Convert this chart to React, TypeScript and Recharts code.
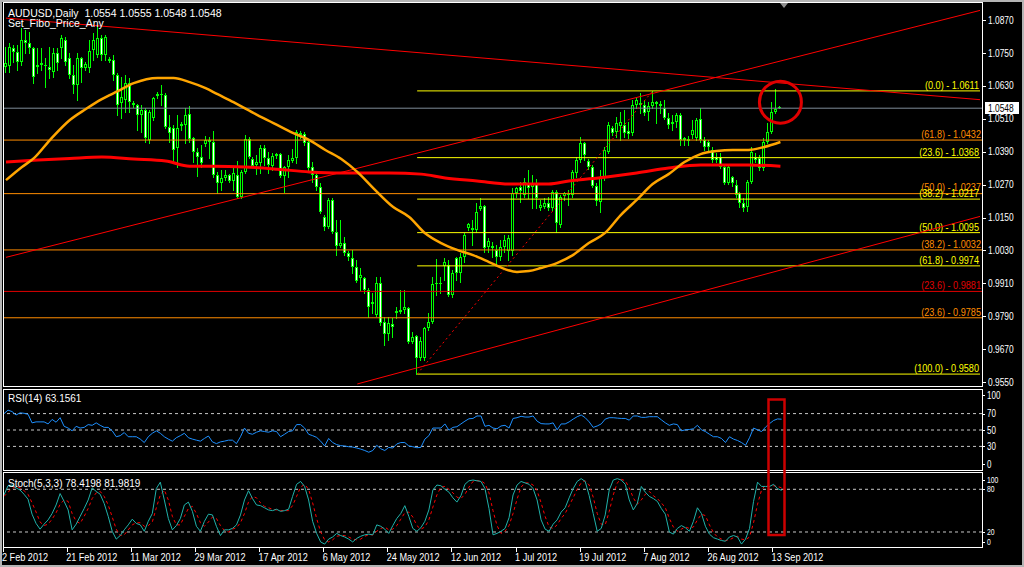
import React from 'react';
import { ComposedChart, Bar, Line, XAxis, YAxis, ReferenceLine, ReferenceDot } from 'recharts';

const SANS = '"Liberation Sans", Arial, sans-serif';

const SLOTS = 245;

const dateTicks = [0, 16, 32, 48, 64, 80, 96, 112, 128, 144, 160, 176, 192];
const dateLabels = ['2 Feb 2012', '21 Feb 2012', '11 Mar 2012', '29 Mar 2012', '17 Apr 2012', '6 May 2012', '24 May 2012', '12 Jun 2012', '1 Jul 2012', '19 Jul 2012', '7 Aug 2012', '26 Aug 2012', '13 Sep 2012'];

const priceTicks = [0.955, 0.967, 0.979, 0.991, 1.003, 1.015, 1.027, 1.039, 1.051, 1.063, 1.075, 1.087];
const rsiTicks = [0, 30, 50, 70, 100];
const stochTicks = [0, 20, 80, 100];

const opens = [
  1.0698, 1.0701, 1.0767, 1.0752, 1.0716, 1.0796, 1.0785, 1.0767, 1.0698, 1.0705,
  1.0705, 1.0698, 1.0680, 1.0749, 1.0767, 1.0796, 1.0730, 1.0669, 1.0632, 1.0730,
  1.0694, 1.0694, 1.0760, 1.0741, 1.0803, 1.0741, 1.0727, 1.0723, 1.0669, 1.0567,
  1.0578, 1.0639, 1.0567, 1.0559, 1.0523, 1.0541, 1.0432, 1.0512, 1.0592, 1.0599,
  1.0596, 1.0479, 1.0476, 1.0403, 1.0483, 1.0487, 1.0527, 1.0439, 1.0388, 1.0370,
  1.0417, 1.0432, 1.0425, 1.0305, 1.0276, 1.0294, 1.0305, 1.0283, 1.0305, 1.0225,
  1.0316, 1.0436, 1.0363, 1.0341, 1.0348, 1.0403, 1.0366, 1.0337, 1.0374, 1.0381,
  1.0301, 1.0334, 1.0356, 1.0366, 1.0450, 1.0454, 1.0425, 1.0334, 1.0305, 1.0261,
  1.0152, 1.0115, 1.0214, 1.0097, 1.0046, 1.0057, 1.0021, 1.0002, 0.9970, 0.9930,
  0.9930, 0.9886, 0.9835, 0.9795, 0.9911, 0.9770, 0.9726, 0.9763, 0.9802, 0.9806,
  0.9813, 0.9821, 0.9697, 0.9719, 0.9639, 0.9639, 0.9748, 0.9770, 0.9908, 0.9911,
  0.9973, 0.9977, 0.9868, 1.0002, 0.9948, 1.0006, 1.0112, 1.0112, 1.0104, 1.0181,
  1.0192, 1.0042, 1.0046, 1.0032, 1.0006, 1.0042, 1.0028, 1.0028, 1.0239, 1.0261,
  1.0232, 1.0276, 1.0261, 1.0276, 1.0184, 1.0188, 1.0203, 1.0184, 1.0243, 1.0123,
  1.0229, 1.0232, 1.0232, 1.0312, 1.0359, 1.0421, 1.0356, 1.0334, 1.0265, 1.0206,
  1.0297, 1.0388, 1.0476, 1.0461, 1.0483, 1.0487, 1.0465, 1.0457, 1.0559, 1.0567,
  1.0559, 1.0534, 1.0556, 1.0570, 1.0563, 1.0548, 1.0512, 1.0490, 1.0498, 1.0523,
  1.0432, 1.0436, 1.0450, 1.0439, 1.0508, 1.0432, 1.0425, 1.0396, 1.0370, 1.0370,
  1.0334, 1.0276, 1.0297, 1.0268, 1.0239, 1.0203, 1.0188, 1.0279, 1.0370, 1.0366,
  1.0330, 1.0425, 1.0461, 1.0534, 1.0554,
];
const highs = [
  1.0771, 1.0785, 1.0778, 1.0778, 1.0840, 1.0832, 1.0825, 1.0771, 1.0767, 1.0767,
  1.0730, 1.0771, 1.0767, 1.0767, 1.0814, 1.0807, 1.0749, 1.0705, 1.0749, 1.0734,
  1.0716, 1.0796, 1.0821, 1.0851, 1.0814, 1.0814, 1.0734, 1.0741, 1.0676, 1.0661,
  1.0669, 1.0658, 1.0574, 1.0563, 1.0559, 1.0548, 1.0541, 1.0589, 1.0607, 1.0632,
  1.0603, 1.0523, 1.0487, 1.0523, 1.0498, 1.0548, 1.0556, 1.0443, 1.0403, 1.0414,
  1.0447, 1.0443, 1.0465, 1.0316, 1.0323, 1.0323, 1.0308, 1.0330, 1.0356, 1.0323,
  1.0450, 1.0443, 1.0370, 1.0377, 1.0414, 1.0414, 1.0388, 1.0385, 1.0385, 1.0385,
  1.0337, 1.0377, 1.0399, 1.0468, 1.0465, 1.0461, 1.0432, 1.0352, 1.0316, 1.0276,
  1.0159, 1.0221, 1.0221, 1.0141, 1.0141, 1.0079, 1.0028, 1.0032, 0.9995, 0.9966,
  0.9933, 0.9894, 0.9875, 0.9933, 0.9933, 0.9788, 0.9788, 0.9784, 0.9824, 0.9886,
  0.9886, 0.9824, 0.9733, 0.9722, 0.9715, 0.9752, 0.9802, 0.9933, 0.9999, 0.9933,
  1.0002, 0.9995, 0.9959, 1.0006, 1.0021, 1.0093, 1.0130, 1.0141, 1.0203, 1.0221,
  1.0195, 1.0075, 1.0061, 1.0050, 1.0068, 1.0086, 1.0086, 1.0257, 1.0261, 1.0279,
  1.0294, 1.0323, 1.0305, 1.0290, 1.0214, 1.0221, 1.0225, 1.0250, 1.0250, 1.0232,
  1.0243, 1.0250, 1.0323, 1.0370, 1.0443, 1.0425, 1.0363, 1.0341, 1.0276, 1.0323,
  1.0407, 1.0498, 1.0483, 1.0516, 1.0534, 1.0541, 1.0498, 1.0578, 1.0585, 1.0603,
  1.0578, 1.0570, 1.0611, 1.0574, 1.0574, 1.0578, 1.0530, 1.0523, 1.0530, 1.0530,
  1.0443, 1.0447, 1.0505, 1.0512, 1.0548, 1.0443, 1.0432, 1.0407, 1.0385, 1.0385,
  1.0341, 1.0341, 1.0301, 1.0286, 1.0243, 1.0221, 1.0286, 1.0407, 1.0385, 1.0377,
  1.0439, 1.0494, 1.0570, 1.0617, 1.0555,
];
const lows = [
  1.0680, 1.0680, 1.0716, 1.0687, 1.0705, 1.0749, 1.0749, 1.0639, 1.0676, 1.0687,
  1.0625, 1.0658, 1.0661, 1.0687, 1.0730, 1.0705, 1.0658, 1.0603, 1.0578, 1.0643,
  1.0687, 1.0680, 1.0723, 1.0734, 1.0723, 1.0723, 1.0716, 1.0650, 1.0523, 1.0512,
  1.0534, 1.0534, 1.0552, 1.0468, 1.0461, 1.0425, 1.0421, 1.0505, 1.0585, 1.0559,
  1.0476, 1.0425, 1.0352, 1.0334, 1.0468, 1.0421, 1.0425, 1.0352, 1.0301, 1.0334,
  1.0410, 1.0366, 1.0297, 1.0239, 1.0250, 1.0286, 1.0279, 1.0250, 1.0221, 1.0221,
  1.0312, 1.0366, 1.0334, 1.0308, 1.0312, 1.0341, 1.0312, 1.0323, 1.0366, 1.0297,
  1.0243, 1.0297, 1.0352, 1.0348, 1.0439, 1.0414, 1.0323, 1.0279, 1.0250, 1.0166,
  1.0104, 1.0112, 1.0093, 1.0013, 1.0042, 1.0013, 0.9995, 0.9948, 0.9915, 0.9886,
  0.9875, 0.9788, 0.9802, 0.9792, 0.9759, 0.9686, 0.9704, 0.9715, 0.9784, 0.9802,
  0.9802, 0.9693, 0.9693, 0.9580, 0.9631, 0.9631, 0.9741, 0.9766, 0.9868, 0.9875,
  0.9922, 0.9865, 0.9861, 0.9922, 0.9915, 0.9988, 1.0104, 1.0050, 1.0097, 1.0177,
  1.0025, 1.0025, 1.0006, 0.9977, 0.9995, 1.0025, 0.9995, 1.0013, 1.0225, 1.0206,
  1.0225, 1.0221, 1.0184, 1.0184, 1.0177, 1.0184, 1.0177, 1.0177, 1.0097, 1.0115,
  1.0214, 1.0195, 1.0225, 1.0297, 1.0352, 1.0359, 1.0327, 1.0261, 1.0195, 1.0170,
  1.0286, 1.0385, 1.0450, 1.0443, 1.0432, 1.0443, 1.0439, 1.0450, 1.0548, 1.0530,
  1.0523, 1.0505, 1.0548, 1.0494, 1.0530, 1.0508, 1.0476, 1.0468, 1.0479, 1.0414,
  1.0414, 1.0414, 1.0439, 1.0432, 1.0425, 1.0396, 1.0388, 1.0352, 1.0352, 1.0330,
  1.0272, 1.0272, 1.0265, 1.0225, 1.0188, 1.0174, 1.0174, 1.0276, 1.0352, 1.0323,
  1.0323, 1.0421, 1.0457, 1.0530, 1.0548,
];
const closes = [
  1.0712, 1.0771, 1.0752, 1.0716, 1.0796, 1.0785, 1.0767, 1.0661, 1.0705, 1.0712,
  1.0701, 1.0687, 1.0749, 1.0712, 1.0803, 1.0716, 1.0669, 1.0632, 1.0730, 1.0694,
  1.0709, 1.0756, 1.0796, 1.0803, 1.0741, 1.0807, 1.0720, 1.0669, 1.0559, 1.0589,
  1.0639, 1.0570, 1.0559, 1.0523, 1.0541, 1.0439, 1.0534, 1.0585, 1.0599, 1.0596,
  1.0479, 1.0457, 1.0396, 1.0476, 1.0490, 1.0523, 1.0436, 1.0388, 1.0370, 1.0348,
  1.0432, 1.0425, 1.0305, 1.0276, 1.0294, 1.0305, 1.0283, 1.0312, 1.0225, 1.0316,
  1.0436, 1.0370, 1.0337, 1.0352, 1.0403, 1.0366, 1.0341, 1.0374, 1.0381, 1.0301,
  1.0334, 1.0359, 1.0366, 1.0461, 1.0457, 1.0421, 1.0330, 1.0305, 1.0261, 1.0170,
  1.0115, 1.0214, 1.0097, 1.0046, 1.0057, 1.0021, 1.0006, 0.9970, 0.9919, 0.9941,
  0.9886, 0.9824, 0.9843, 0.9911, 0.9766, 0.9726, 0.9766, 0.9752, 0.9810, 0.9813,
  0.9824, 0.9697, 0.9715, 0.9639, 0.9700, 0.9748, 0.9770, 0.9908, 0.9911, 0.9908,
  0.9988, 0.9868, 0.9948, 0.9948, 1.0006, 1.0086, 1.0126, 1.0104, 1.0170, 1.0192,
  1.0039, 1.0064, 1.0039, 1.0006, 1.0042, 1.0068, 1.0075, 1.0239, 1.0257, 1.0246,
  1.0279, 1.0257, 1.0276, 1.0221, 1.0195, 1.0203, 1.0184, 1.0243, 1.0130, 1.0225,
  1.0239, 1.0239, 1.0316, 1.0359, 1.0421, 1.0377, 1.0334, 1.0265, 1.0210, 1.0297,
  1.0396, 1.0487, 1.0457, 1.0494, 1.0498, 1.0457, 1.0454, 1.0559, 1.0578, 1.0559,
  1.0530, 1.0556, 1.0570, 1.0563, 1.0556, 1.0512, 1.0487, 1.0498, 1.0523, 1.0432,
  1.0439, 1.0428, 1.0468, 1.0505, 1.0432, 1.0407, 1.0407, 1.0359, 1.0359, 1.0334,
  1.0276, 1.0334, 1.0276, 1.0232, 1.0203, 1.0184, 1.0279, 1.0388, 1.0359, 1.0330,
  1.0425, 1.0461, 1.0534, 1.0545, 1.0548,
];

const rsiValues = [
  70, 74.2, 72.5, 68.3, 70.9, 70.4, 69.2, 58.7, 59.9, 59.9,
  59.9, 57.4, 62.9, 59.5, 65, 54.5, 52.4, 49, 54.5, 52.4,
  53.2, 56.6, 55.7, 58.7, 55.7, 53.2, 53.2, 49, 41.8, 43.1,
  46.9, 41.8, 41.8, 41.8, 38.9, 34.7, 41.8, 46, 49, 46,
  41.8, 38.9, 36.4, 40.6, 43.1, 46, 40.6, 38.9, 37.6, 36.4,
  39.7, 42.7, 35.5, 33.4, 35.5, 36.4, 37.6, 37.6, 33.4, 41.8,
  52.4, 46, 44.8, 47.3, 49, 48.1, 47.3, 49, 48.1, 41.8,
  44.8, 48.1, 49, 56.6, 56.6, 52.4, 44.8, 43.1, 41, 36.4,
  30.5, 39.7, 34.7, 32.2, 30.9, 30.5, 29.6, 29.2, 28, 26.7,
  25, 22.9, 25, 31.3, 27.1, 25, 28.8, 28, 33, 34.7,
  34.7, 30.5, 29.6, 28.4, 28.8, 38.9, 43.1, 52.4, 52.4, 52.4,
  57.4, 49.8, 53.2, 54, 57.4, 60.8, 63.7, 64.1, 67.1, 67.1,
  54.5, 55.7, 52.4, 51.5, 54.9, 55.7, 52.4, 64.1, 65, 66.7,
  65.8, 65.8, 67.1, 60.8, 57.8, 57.4, 57.4, 58.7, 50.2, 57.4,
  57.4, 59.9, 63.3, 66.2, 68.3, 65, 59.9, 53.2, 54.9, 57.4,
  63.3, 65, 65, 64.5, 64.1, 64.1, 62, 67.1, 67.1, 65.4,
  65.4, 66.2, 66.2, 66.2, 62.4, 58.7, 55.7, 57.4, 56.6, 49,
  50.2, 50.6, 51.5, 55.7, 50.2, 48.1, 44.8, 41.8, 41.8, 39.7,
  34.7, 41.8, 38.9, 37.2, 34.7, 31.3, 40.6, 52.4, 50.2, 48.1,
  53.6, 57.8, 61.6, 63.5, 63.16,
];

const stochMain = [
  72, 85, 86, 82, 79, 73, 66, 45, 32, 24,
  31, 37, 46, 58, 74, 63, 51, 23, 31, 42,
  53, 65, 82, 77, 73, 60, 42, 21, 10, 15,
  23, 30, 38, 32, 30, 21, 35, 46, 81, 90,
  65, 39, 23, 29, 39, 58, 62, 49, 28, 21,
  35, 45, 44, 28, 15, 23, 23, 25, 30, 44,
  65, 78, 67, 58, 57, 54, 51, 50, 52, 49,
  50, 52, 70, 87, 91, 84, 65, 35, 18, 6,
  3, 10, 13, 18, 15, 13, 10, 6, 11, 14,
  16, 17, 16, 30, 28, 24, 18, 29, 39, 46,
  57, 42, 25, 21, 26, 35, 51, 79, 86, 85,
  80, 76, 68, 62, 71, 87, 92, 93, 92, 91,
  81, 53, 16, 18, 21, 25, 40, 72, 86, 91,
  89, 87, 81, 65, 37, 24, 21, 31, 37, 48,
  54, 68, 81, 91, 95, 91, 71, 46, 21, 25,
  44, 79, 93, 95, 93, 87, 65, 51, 60, 84,
  76, 70, 67, 63, 53, 45, 20, 17, 25, 29,
  26, 21, 35, 54, 46, 28, 17, 12, 10, 8,
  7, 13, 15, 13, 3, 10, 25, 63, 90, 84,
  84, 84, 87, 81, 78.42,
];
const stochSignal = [
  70, 76, 81, 84, 82, 78, 73, 61, 48, 34,
  29, 31, 38, 47, 59, 65, 63, 46, 35, 32,
  42, 53, 67, 75, 77, 70, 58, 41, 24, 15,
  16, 23, 30, 33, 33, 28, 29, 34, 54, 72,
  79, 65, 42, 30, 30, 42, 53, 56, 46, 33,
  28, 34, 41, 39, 29, 22, 20, 24, 26, 33,
  46, 62, 70, 68, 61, 56, 54, 52, 51, 50,
  50, 50, 57, 70, 83, 87, 80, 61, 39, 20,
  9, 6, 9, 14, 15, 15, 13, 10, 9, 10,
  14, 16, 16, 21, 25, 27, 23, 24, 29, 38,
  47, 48, 41, 29, 24, 27, 37, 55, 72, 83,
  84, 80, 75, 69, 67, 73, 83, 91, 92, 92,
  88, 75, 50, 29, 18, 21, 29, 46, 66, 83,
  89, 89, 86, 78, 61, 42, 27, 25, 30, 39,
  46, 57, 68, 80, 89, 92, 86, 69, 46, 31,
  30, 49, 72, 89, 94, 92, 82, 68, 59, 65,
  73, 77, 71, 67, 61, 54, 39, 27, 21, 24,
  27, 25, 27, 37, 45, 43, 30, 19, 13, 10,
  8, 9, 12, 14, 10, 9, 13, 33, 59, 79,
  86, 84, 85, 84, 81.98,
];

const maFastIdx = [0, 4, 7, 11, 16, 20, 24, 28, 32, 38, 42, 46, 50, 53, 57, 63, 67, 72, 76, 80, 84, 88, 92, 97, 101, 105, 109, 113, 117, 121, 125, 128, 131, 134, 138, 142, 146, 150, 154, 158, 162, 166, 170, 174, 178, 182, 186, 190, 194];
const maFastVal = [1.0286, 1.0334, 1.0366, 1.0432, 1.0505, 1.0545, 1.0581, 1.0610, 1.0639, 1.0658, 1.0658, 1.0643, 1.0621, 1.0599, 1.0570, 1.0523, 1.0494, 1.0457, 1.0432, 1.0396, 1.0363, 1.0316, 1.0257, 1.0188, 1.0152, 1.0093, 1.0057, 1.0032, 1.0013, 0.9988, 0.9962, 0.9952, 0.9955, 0.9966, 0.9984, 1.0013, 1.0057, 1.0093, 1.0159, 1.0214, 1.0272, 1.0308, 1.0352, 1.0381, 1.0392, 1.0396, 1.0396, 1.0407, 1.0425];
const maSlowIdx = [0, 8, 16, 24, 32, 40, 46, 52, 60, 68, 76, 84, 96, 104, 110, 118, 126, 136, 141, 150, 158, 166, 174, 186, 194];
const maSlowVal = [1.0352, 1.0359, 1.0365, 1.0370, 1.0363, 1.0356, 1.0337, 1.0337, 1.0334, 1.0326, 1.0316, 1.0312, 1.0312, 1.0308, 1.0294, 1.0283, 1.0272, 1.0272, 1.0283, 1.0297, 1.0312, 1.0330, 1.0341, 1.0341, 1.0337];

const trendDownIdx = [0, 244];
const trendDownVal = [1.0876, 1.0579];
const channelUpIdx = [0, 244];
const channelUpVal = [1.0005, 1.0904];
const channelLowIdx = [88, 244];
const channelLowVal = [0.9544, 1.0154];
const fiboLegIdx = [103, 162];
const fiboLegVal = [0.9580, 1.0611];

const fiboStartIdx = 103;
const fiboEndIdx = 244;
const fiboLevels = [1.0611, 1.0368, 1.0217, 1.0095, 0.9974, 0.9580];
const fiboTags = ['(0.0)', '(23.6)', '(38.2)', '(50.0)', '(61.8)', '(100.0)'];
const anyLevels = [1.0432, 1.0237, 1.0032, 0.9881, 0.9785];
const anyTags = ['(61.8)', '(50.0)', '(38.2)', '(23.6)', '(23.6)'];
const anyColors = ['#ff8c00', '#ff8c00', '#ff8c00', '#e00000', '#ff8c00'];

const circleIdx = 194;
const circlePrice = 1.0570;

const rsiLabel = 'RSI(14) 63.1561';
const stochLabel = 'Stoch(5,3,3) 78.4198 81.9819';
const symbolLabel = 'AUDUSD,Daily';

const rows: any[] = Array.from({ length: SLOTS }, (_, i) => ({
  i,
  o: i < opens.length ? opens[i] : null,
  h: i < highs.length ? highs[i] : null,
  l: i < lows.length ? lows[i] : null,
  c: i < closes.length ? closes[i] : null,
  rsi: i < rsiValues.length ? rsiValues[i] : null,
  sm: i < stochMain.length ? stochMain[i] : null,
  ss: i < stochSignal.length ? stochSignal[i] : null,
}));
const place = (idx: number[], val: number[], key: string) => idx.forEach((ix, k) => { rows[ix][key] = val[k]; });
place(maFastIdx, maFastVal, 'maF');
place(maSlowIdx, maSlowVal, 'maS');
place(trendDownIdx, trendDownVal, 'tDown');
place(channelUpIdx, channelUpVal, 'tUp');
place(channelLowIdx, channelLowVal, 'tLow');
place(fiboLegIdx, fiboLegVal, 'tFib');

const last = rows[closes.length - 1];

// narrow text: Arial-metric font squeezed horizontally (MT4 look)
function NText(props: any) {
  const { x, y, sx = 0.82, size = 10.5, anchor = 'start', fill = '#ffffff', children } = props;
  return (
    <text transform={`translate(${x},${y}) scale(${sx},1)`} x={0} y={0} textAnchor={anchor} fill={fill}
      fontSize={size} fontFamily={SANS}>{children}</text>
  );
}

function CandleShape(props: any) {
  const { x, y, width, height, payload } = props;
  if (!payload || payload.h == null) return null;
  const top = Math.min(y, y + height);
  const bot = Math.max(y, y + height);
  const span = payload.h - payload.l;
  const py = (v: number) => (span > 0 ? top + ((payload.h - v) / span) * (bot - top) : top);
  const cx = Math.floor(x + width / 2) + 0.5;
  const bTop = Math.round(py(Math.max(payload.o, payload.c)));
  const bBot = Math.round(py(Math.min(payload.o, payload.c)));
  const bh = Math.max(bBot - bTop, 1);
  const bull = payload.c > payload.o;
  return (
    <g>
      <line x1={cx} x2={cx} y1={Math.round(top)} y2={Math.round(bot) + 1} stroke="#00ff00" strokeWidth={1} />
      <rect x={cx - 1.5} y={bTop} width={3} height={bh} fill="#00ff00" />
      {bh > 2 && <rect x={cx - 0.5} y={bTop + 1} width={1} height={bh - 2} fill={bull ? '#000000' : '#ffffff'} />}
    </g>
  );
}

function PriceTick(props: any) {
  const { x, y, payload } = props;
  const yy = Math.round(y) + 0.5;
  return (
    <g>
      <line x1={x} x2={x + 4} y1={yy} y2={yy} stroke="#ffffff" />
      <NText x={x + 6} y={y + 3.8} sx={0.8} size={10.5}>{Number(payload.value).toFixed(4)}</NText>
    </g>
  );
}

function makeLevelTick(shiftTop: number, shiftBottom: number, maxV: number, minV: number, size: number) {
  return function LevelTick(props: any) {
    const { x, y, payload } = props;
    let yy = y;
    if (payload.value === maxV) yy = y + shiftTop;
    if (payload.value === minV) yy = y - shiftBottom;
    const ly = Math.round(yy) + 0.5;
    return (
      <g>
        <line x1={x} x2={x + 3} y1={ly} y2={ly} stroke="#ffffff" />
        <NText x={x + 5} y={yy + size * 0.35} sx={0.8} size={size}>{payload.value}</NText>
      </g>
    );
  };
}
const RsiTick = makeLevelTick(6, 7, 100, 0, 10);
const StochTick = makeLevelTick(4.5, 4.5, 100, 0, 8.5);

function DateTick(props: any) {
  const { x, y, payload } = props;
  const k = dateTicks.indexOf(payload.value);
  const tx = Math.floor(x) - 0.5;
  return (
    <g>
      <line x1={tx} x2={tx} y1={y} y2={y + 4} stroke="#ffffff" />
      <NText x={x - 2} y={y + 12.5} sx={0.83} size={11}>{k >= 0 ? dateLabels[k] : ''}</NText>
    </g>
  );
}

function LevelLabel(props: any) {
  const { viewBox, text, color, dy = 0 } = props;
  if (!viewBox) return null;
  const xr = viewBox.x + viewBox.width;
  return <NText x={xr - 1} y={viewBox.y - 2 + dy} sx={0.83} size={11} anchor="end" fill={color}>{text}</NText>;
}

function PriceBox(props: any) {
  const { viewBox, value } = props;
  if (!viewBox) return null;
  const xr = viewBox.x + viewBox.width;
  const yy = viewBox.y;
  return (
    <g>
      <rect x={xr + 3} y={Math.round(yy) - 6} width={34} height={12} fill="#ffffff" />
      <NText x={xr + 6} y={yy + 3.8} sx={0.8} size={10.5} fill="#000000">{value}</NText>
    </g>
  );
}

const W = 1024;

export default function App() {
  return (
    <div style={{ position: 'absolute', left: 0, top: 0, width: W, height: 567, background: '#000000', overflow: 'hidden' }}>
      <div style={{ position: 'absolute', left: 0, top: 0 }}>
        <ComposedChart width={W} height={387} data={rows} margin={{ top: 3, right: 0, bottom: 0, left: 4 }}>
          <XAxis dataKey="i" type="category" hide />
          <YAxis orientation="right" width={42} domain={[0.9533, 1.0931]} allowDataOverflow type="number"
            ticks={priceTicks} interval={0} tick={<PriceTick />} tickLine={false} axisLine={false} tickSize={0} tickMargin={0} />
          {anyLevels.map((v, k) => (
            <ReferenceLine key={'any' + k} y={v} stroke={anyColors[k]} strokeWidth={1}
              label={<LevelLabel text={`${anyTags[k]} - ${v.toFixed(4)}`} color={anyColors[k]} dy={k === 1 ? -1 : 0} />} />
          ))}
          {fiboLevels.map((v, k) => (
            <ReferenceLine key={'fib' + k} segment={[{ x: fiboStartIdx, y: v }, { x: fiboEndIdx, y: v }]} stroke="#ffff00" strokeWidth={1}
              label={<LevelLabel text={`${fiboTags[k]} - ${v.toFixed(4)}`} color="#ffff00" />} />
          ))}
          <ReferenceLine y={last.c} stroke="#7f8c99" strokeWidth={1}
            label={<PriceBox value={last.c.toFixed(4)} />} />
          <Line dataKey="tDown" stroke="#ff0000" strokeWidth={1} dot={false} activeDot={false} connectNulls type="linear" isAnimationActive={false} />
          <Line dataKey="tUp" stroke="#ff0000" strokeWidth={1} dot={false} activeDot={false} connectNulls type="linear" isAnimationActive={false} />
          <Line dataKey="tLow" stroke="#ff0000" strokeWidth={1} dot={false} activeDot={false} connectNulls type="linear" isAnimationActive={false} />
          <Line dataKey="tFib" stroke="#ff0000" strokeWidth={1} strokeDasharray="2 3" dot={false} activeDot={false} connectNulls type="linear" isAnimationActive={false} />
          <Bar dataKey={(d: any) => (d.h == null ? null : [d.l, d.h])} barSize={3} shape={<CandleShape />} isAnimationActive={false} />
          <Line dataKey="maS" stroke="#ff0000" strokeWidth={3} dot={false} activeDot={false} connectNulls type="monotone" isAnimationActive={false} />
          <Line dataKey="maF" stroke="#ffa500" strokeWidth={2.5} dot={false} activeDot={false} connectNulls type="monotone" isAnimationActive={false} />
          <ReferenceDot x={circleIdx} y={circlePrice} r={21} fill="none" stroke="#e00000" strokeWidth={3} ifOverflow="visible" />
        </ComposedChart>
      </div>

      <div style={{ position: 'absolute', left: 0, top: 389 }}>
        <ComposedChart width={W} height={82} data={rows} margin={{ top: 0, right: 0, bottom: 0, left: 4 }}>
          <XAxis dataKey="i" type="category" hide />
          <YAxis orientation="right" width={42} domain={[0, 100]} allowDataOverflow type="number"
            ticks={rsiTicks} interval={0} tick={<RsiTick />} tickLine={false} axisLine={false} tickSize={0} tickMargin={0} />
          <ReferenceLine y={70} stroke="#c8c8c8" strokeDasharray="3 3" />
          <ReferenceLine y={50} stroke="#c8c8c8" strokeDasharray="3 3" />
          <ReferenceLine y={30} stroke="#c8c8c8" strokeDasharray="3 3" />
          <Line dataKey="rsi" stroke="#1e90ff" strokeWidth={1} dot={false} activeDot={false} type="linear" isAnimationActive={false} />
        </ComposedChart>
      </div>

      <div style={{ position: 'absolute', left: 0, top: 472 }}>
        <ComposedChart width={W} height={95} data={rows} margin={{ top: 0, right: 0, bottom: 0, left: 4 }}>
          <XAxis dataKey="i" type="category" ticks={dateTicks} interval={0} height={19}
            tick={<DateTick />} tickLine={false} axisLine={false} tickSize={0} tickMargin={0} />
          <YAxis orientation="right" width={42} domain={[-2.5, 104.3]} allowDataOverflow type="number"
            ticks={stochTicks} interval={0} tick={<StochTick />} tickLine={false} axisLine={false} tickSize={0} tickMargin={0} />
          <ReferenceLine y={80} stroke="#c8c8c8" strokeDasharray="3 3" />
          <ReferenceLine y={20} stroke="#c8c8c8" strokeDasharray="3 3" />
          <Line dataKey="ss" stroke="#ff0000" strokeWidth={1} strokeDasharray="3 3" dot={false} activeDot={false} type="linear" isAnimationActive={false} />
          <Line dataKey="sm" stroke="#20b2aa" strokeWidth={1} dot={false} activeDot={false} type="linear" isAnimationActive={false} />
        </ComposedChart>
      </div>

      <svg width={W} height={567} style={{ position: 'absolute', left: 0, top: 0, pointerEvents: 'none' }}>
        <rect x={1} y={1} width={1022} height={565} fill="none" stroke="#b4b4b4" strokeWidth={2} />
        <rect x={3.5} y={2.5} width={979} height={384} fill="none" stroke="#ffffff" strokeWidth={1} />
        <rect x={3.5} y={389.5} width={979} height={81} fill="none" stroke="#ffffff" strokeWidth={1} />
        <rect x={3.5} y={472.5} width={979} height={75} fill="none" stroke="#ffffff" strokeWidth={1} />
        <polygon points="780,3 788,3 784,8" fill="#909090" />
        <text x={8} y={16.5} fill="#ffffff" fontSize={10.5} fontFamily={SANS} style={{ whiteSpace: 'pre' }}>
          {`${symbolLabel}  ${last.o.toFixed(4)} ${last.h.toFixed(4)} ${last.l.toFixed(4)} ${last.c.toFixed(4)}`}
        </text>
        <text x={8} y={27} fill="#ffffff" fontSize={10.5} fontFamily={SANS}>Set_Fibo_Price_Any</text>
        <text x={8} y={402} fill="#ffffff" fontSize={10} fontFamily={SANS}>{rsiLabel}</text>
        <text x={8} y={487} fill="#ffffff" fontSize={10} fontFamily={SANS}>{stochLabel}</text>
        <rect x={768.5} y={399.5} width={16} height={135.5} fill="none" stroke="#cc0000" strokeWidth={2.5} />
      </svg>
    </div>
  );
}
